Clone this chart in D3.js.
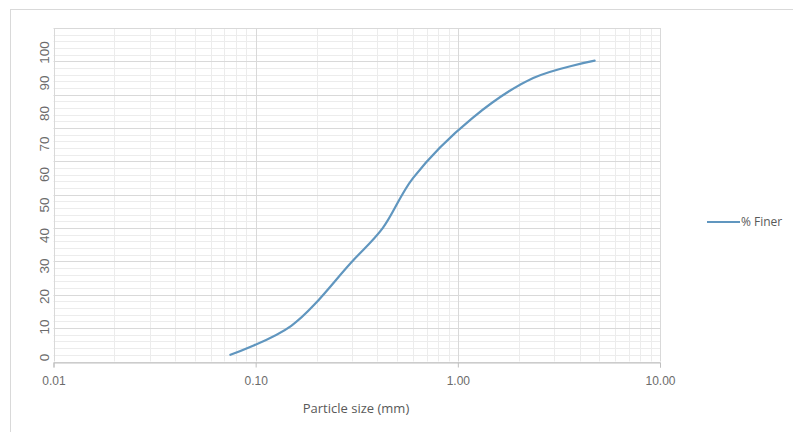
<!DOCTYPE html>
<html>
<head>
<meta charset="utf-8">
<script src="https://cdn.jsdelivr.net/npm/d3@7"></script>
<style>
  body { margin: 0; background: #fff; }
  svg { font-family: "Open Sans", "Noto Sans", sans-serif; }
</style>
</head>
<body>
<svg id="chart" width="793" height="432"></svg>
<script>
// sieve sizes (mm) and percent finer
const sizes = [0.075, 0.15, 0.3, 0.425, 0.6, 1.18, 2.36, 4.75];
const finer = [2, 10.7, 30, 40, 55, 73, 85, 90.2];
const xTicks = [0.01, 0.1, 1, 10];
const yTicks = [0, 10, 20, 30, 40, 50, 60, 70, 80, 90, 100];
const seriesName = "% Finer";
const xTitle = "Particle size (mm)";

var svg = d3.select("#chart");

// outer chart frame
svg.append("rect")
  .attr("x", 10.5).attr("y", 9.5)
  .attr("width", 800).attr("height", 440)
  .attr("fill", "none").attr("stroke", "#d9d9d9");

var pLeft = 53.5, pRight = 660, pTop = 28, pBottom = 361.5;

var x = d3.scaleLog().domain([0.01, 10]).range([pLeft, pRight]);
var y = d3.scaleLinear().domain([0, 100]).range([pBottom, pTop]);
// tick labels sit a little tighter than the gridlines in the original
var yLab = d3.scaleLinear().domain([0, 100]).range([357, 52]);

// minor grid
var minorX = [];
[0.01, 0.1, 1].forEach(function(d) {
  for (var k = 2; k <= 9; k++) minorX.push(d * k);
});
var minorY = d3.range(0, 101, 2).filter(function(v) { return v % 10 != 0; });

svg.append("g").selectAll("line")
  .data(minorX).enter().append("line")
  .attr("x1", function(d) { return Math.round(x(d)) + 0.5; })
  .attr("x2", function(d) { return Math.round(x(d)) + 0.5; })
  .attr("y1", pTop).attr("y2", pBottom)
  .attr("stroke", "#ececec");

svg.append("g").selectAll("line")
  .data(minorY).enter().append("line")
  .attr("x1", pLeft).attr("x2", pRight)
  .attr("y1", function(d) { return Math.round(y(d)) + 0.5; })
  .attr("y2", function(d) { return Math.round(y(d)) + 0.5; })
  .attr("stroke", "#ececec");

// major grid
svg.append("g").selectAll("line")
  .data(xTicks).enter().append("line")
  .attr("x1", function(d) { return Math.round(x(d)) + 0.5; })
  .attr("x2", function(d) { return Math.round(x(d)) + 0.5; })
  .attr("y1", pTop).attr("y2", pBottom)
  .attr("stroke", "#d9d9d9");

svg.append("g").selectAll("line")
  .data(yTicks).enter().append("line")
  .attr("x1", pLeft).attr("x2", pRight)
  .attr("y1", function(d) { return Math.round(y(d)) + 0.5; })
  .attr("y2", function(d) { return Math.round(y(d)) + 0.5; })
  .attr("stroke", "#d9d9d9");

// x axis
var xAxis = svg.append("g")
  .attr("transform", "translate(0," + (Math.round(pBottom) + 0.5) + ")")
  .call(d3.axisBottom(x).tickValues(xTicks).tickFormat(d3.format(".2f")).tickSize(5).tickPadding(9));
xAxis.select(".domain").attr("stroke", "#bfbfbf");
xAxis.selectAll(".tick line").attr("stroke", "#bfbfbf");
xAxis.selectAll("text")
  .attr("fill", "#6b6b6b").style("font-size", "12px");

// y axis labels (rotated)
var yAxis = svg.append("g")
  .attr("transform", "translate(" + pLeft + ",0)")
  .call(d3.axisLeft(yLab).tickValues(yTicks).tickSize(0));
yAxis.select(".domain").remove();
yAxis.selectAll("text")
  .attr("x", 0)
  .attr("transform", "translate(-5,0) rotate(-90)")
  .attr("text-anchor", "middle")
  .attr("dy", "0")
  .attr("fill", "#6b6b6b")
  .style("font-size", "13.5px");

svg.append("text")
  .attr("x", 356).attr("y", 413)
  .attr("text-anchor", "middle")
  .attr("fill", "#595959")
  .style("font-size", "13px")
  .text(xTitle);

// curve
var data = sizes.map(function(s, i) { return [s, finer[i]]; });
var line = d3.line()
  .x(function(d) { return x(d[0]); })
  .y(function(d) { return y(d[1]); })
  .curve(d3.curveCatmullRom.alpha(0.5));

svg.append("path")
  .datum(data)
  .attr("d", line)
  .attr("fill", "none")
  .attr("stroke", "#6096bf")
  .attr("stroke-width", 2.2)
  .attr("stroke-linecap", "round");

// legend
var lg = svg.append("g").attr("transform", "translate(707,222)");
lg.append("line")
  .attr("x1", 0).attr("x2", 33).attr("y1", 0).attr("y2", 0)
  .attr("stroke", "#6096bf").attr("stroke-width", 2.2);
lg.append("text")
  .attr("x", 34).attr("y", 4)
  .attr("fill", "#595959")
  .style("font-size", "12px")
  .text(seriesName);
</script>
</body>
</html>
